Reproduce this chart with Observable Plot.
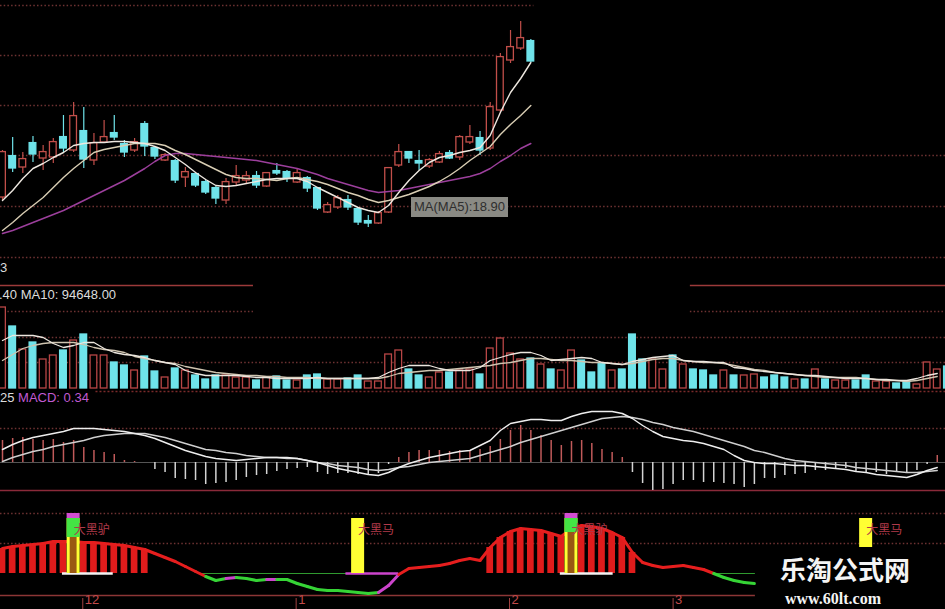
<!DOCTYPE html>
<html><head><meta charset="utf-8">
<script src="https://cdn.jsdelivr.net/npm/d3@7"></script>
<script src="https://cdn.jsdelivr.net/npm/@observablehq/plot@0.6"></script>
<style>
html,body{margin:0;padding:0;background:#000;}
#wrap{position:relative;width:945px;height:609px;overflow:hidden;background:#000;}
#wrap svg{display:block;}
.lbl{position:absolute;font-family:"Liberation Sans",Arial,sans-serif;font-size:13px;color:#dcdcdc;white-space:nowrap;line-height:14px;}
</style></head><body><div id="wrap"></div>
<script>
// ---------- candles (price) ----------
const open  = [20.15,22.2,21.65,22.85,22.1,22.15,23.15,22.5,23.45,22.0,22.9,23.35,22.8,22.5,23.8,22.6,22.0,21.95,21.15,21.3,20.9,20.6,20.0,20.9,21.0,21.2,20.7,21.45,21.4,20.9,21.1,20.6,19.4,19.65,20.0,19.55,18.95,18.85,19.4,21.75,22.4,21.95,21.7,21.9,22.35,22.15,22.9,23.1,22.6,24.5,27.0,27.6,27.95];
const high  = [22.5,23.15,22.4,23.2,22.75,23.1,24.25,24.9,24.65,23.35,24.0,24.25,23.0,23.1,23.95,22.65,22.35,22.05,21.65,21.35,21.0,20.7,21.1,21.75,21.45,21.45,21.4,21.85,21.5,21.6,21.2,20.65,19.9,20.25,20.25,19.65,19.25,19.45,21.65,22.8,22.4,22.5,22.1,22.45,22.5,23.25,23.75,23.45,24.9,27.35,28.5,28.95,28.05];
const low   = [20.0,21.4,21.35,21.9,21.5,21.85,22.4,22.4,21.6,21.75,22.85,23.0,22.15,22.4,22.2,22.05,21.95,20.85,20.65,20.65,20.3,19.8,19.8,20.75,20.85,20.6,20.65,21.25,20.9,20.85,20.4,19.5,19.35,19.55,19.5,18.75,18.65,18.8,19.35,21.65,21.85,21.5,21.6,21.85,22.05,22.0,22.8,22.25,22.5,24.4,26.85,27.5,26.9];
const close = [22.4,21.6,22.05,22.3,22.4,22.9,22.6,24.2,22.05,22.85,23.15,23.15,22.4,22.9,22.7,22.2,22.25,21.0,21.4,20.75,20.4,20.1,20.9,21.2,21.2,20.75,21.35,21.35,21.1,21.35,20.6,19.6,19.75,20.1,19.65,18.9,18.85,19.35,21.6,22.4,22.1,21.85,22.0,22.3,22.1,23.15,23.15,22.5,24.65,27.15,27.65,28.1,26.95];
const ma5   = [20.0,20.5,21.1,21.6,21.85,22.15,22.4,22.75,22.85,22.9,22.9,22.95,22.95,22.9,22.85,22.7,22.5,22.15,21.8,21.4,21.05,20.75,20.7,20.75,20.85,20.95,21.05,21.1,21.1,21.1,20.95,20.65,20.4,20.15,19.9,19.65,19.5,19.4,19.75,20.4,21.0,21.5,21.9,22.15,22.25,22.4,22.5,22.65,23.25,24.4,25.4,26.1,26.9];
const ma10  = [18.5,18.9,19.35,19.75,20.15,20.65,21.15,21.6,22.0,22.4,22.55,22.65,22.75,22.85,22.85,22.85,22.75,22.5,22.3,22.05,21.8,21.55,21.3,21.15,21.1,21.1,21.05,21.0,21.1,21.15,21.05,20.95,20.8,20.6,20.4,20.25,20.05,19.9,20.0,20.15,20.3,20.5,20.7,20.95,21.25,21.6,22.0,22.35,22.7,23.3,23.8,24.25,24.75];
const ma30  = [18.35,18.5,18.7,18.9,19.1,19.3,19.5,19.75,20.0,20.25,20.5,20.75,21.0,21.3,21.6,21.95,22.25,22.35,22.35,22.3,22.25,22.2,22.15,22.1,22.05,22.0,21.9,21.8,21.7,21.6,21.45,21.3,21.1,20.95,20.8,20.65,20.5,20.4,20.45,20.5,20.6,20.7,20.8,20.9,21.0,21.1,21.2,21.35,21.6,21.95,22.25,22.6,22.85];
const priceGrid    = [29.75,27.25,24.75,22.25,19.7,17.15];
const priceGridEnd = [52.3,48.7,49.0,92.81,92.81,92.81];

// ---------- volume ----------
const volume = [405000,310000,195000,230000,145000,165000,190000,240000,270000,165000,
165000,130000,115000,90000,160000,85000,55000,100000,90000,65000,
45000,65000,65000,55000,55000,40000,55000,60000,40000,40000,
65000,70000,45000,45000,50000,65000,35000,35000,170000,190000,
95000,65000,55000,80000,80000,90000,95000,70000,200000,250000,
175000,145000,150000,120000,95000,90000,190000,140000,80000,125000,
90000,95000,270000,145000,145000,95000,165000,120000,95000,90000,
65000,90000,65000,65000,70000,55000,65000,55000,45000,45000,
95000,45000,40000,40000,40000,65000,35000,35000,25000,35000,
20000,130000,95000,110000];
const volDir = "RCRCRRCRCRRCCRCCRCRCCCRRRCRCCRCCRRCCRRRRCCRRCRRCRRRRCRCRRCCCRCCCRRCRCCCRCRRCCCRCRCRRCCRRCCRRRC";
const volMa5 = [240000,265000,265000,265000,255000,225000,205000,215000,230000,230000,
200000,180000,170000,165000,155000,140000,130000,120000,90000,75000,
65000,65000,65000,65000,60000,55000,55000,50000,50000,50000,
50000,55000,50000,50000,50000,50000,50000,55000,80000,100000,
115000,115000,115000,100000,90000,90000,90000,105000,140000,155000,
170000,180000,180000,165000,140000,145000,150000,155000,150000,130000,
125000,120000,135000,145000,155000,160000,165000,140000,135000,135000,
130000,130000,105000,100000,90000,85000,80000,75000,70000,65000,
65000,60000,55000,50000,50000,50000,45000,45000,40000,40000,
50000,65000,75000];
const volMa10 = [140000,170000,200000,215000,225000,230000,230000,230000,220000,205000,
195000,190000,180000,160000,150000,140000,130000,125000,110000,100000,
90000,80000,75000,70000,65000,65000,60000,60000,55000,55000,
55000,50000,50000,50000,50000,50000,50000,50000,60000,75000,
80000,85000,90000,90000,95000,100000,105000,110000,115000,125000,
130000,140000,150000,150000,145000,140000,140000,135000,130000,130000,
125000,120000,125000,135000,145000,150000,150000,140000,135000,130000,
130000,125000,115000,105000,95000,90000,80000,75000,70000,65000,
60000,55000,55000,55000,55000,50000,45000,40000,40000,35000,
40000,50000,60000];
const volGrid = [385000,255000,130000];

// ---------- MACD ----------
const macdHist = [0.22,0.24,0.25,0.23,0.22,0.23,0.20,0.22,0.15,0.12,
0.10,0.08,0.02,0.01,0.0,-0.07,-0.10,-0.16,-0.17,-0.18,
-0.22,-0.21,-0.20,-0.18,-0.15,-0.13,-0.12,-0.09,-0.07,-0.06,
-0.05,-0.10,-0.12,-0.11,-0.11,-0.12,-0.12,-0.11,-0.02,0.05,
0.10,0.12,0.12,0.12,0.11,0.12,0.12,0.13,0.16,0.23,
0.32,0.37,0.32,0.27,0.22,0.17,0.21,0.22,0.19,0.13,
0.10,0.05,-0.10,-0.21,-0.28,-0.27,-0.22,-0.18,-0.18,-0.20,
-0.20,-0.21,-0.22,-0.25,-0.22,-0.16,-0.16,-0.13,-0.12,-0.11,
-0.08,-0.08,-0.07,-0.06,-0.10,-0.10,-0.10,-0.12,-0.10,-0.10,
-0.08,-0.02,0.07];
const dif = [0.13,0.18,0.22,0.25,0.27,0.29,0.31,0.34,0.34,0.34,
0.33,0.32,0.31,0.29,0.27,0.24,0.20,0.16,0.12,0.09,
0.06,0.04,0.03,0.02,0.03,0.04,0.05,0.05,0.05,0.04,
0.02,0.0,-0.03,-0.06,-0.08,-0.10,-0.12,-0.13,-0.10,-0.05,
-0.01,0.02,0.05,0.07,0.09,0.11,0.12,0.17,0.22,0.32,
0.39,0.41,0.43,0.43,0.42,0.42,0.46,0.49,0.51,0.51,
0.51,0.49,0.44,0.37,0.31,0.26,0.24,0.22,0.21,0.19,
0.16,0.13,0.07,0.02,0.0,-0.01,-0.01,-0.02,-0.03,-0.03,
-0.04,-0.05,-0.06,-0.07,-0.09,-0.10,-0.12,-0.13,-0.14,-0.15,
-0.12,-0.08,-0.05];
const dea = [0.01,0.05,0.08,0.11,0.13,0.16,0.18,0.20,0.22,0.25,
0.27,0.28,0.29,0.29,0.29,0.27,0.25,0.22,0.19,0.16,
0.13,0.12,0.10,0.09,0.07,0.06,0.05,0.05,0.04,0.04,
0.02,0.0,-0.01,-0.03,-0.04,-0.05,-0.07,-0.08,-0.07,-0.05,
-0.04,-0.02,0.0,0.01,0.02,0.03,0.04,0.07,0.10,0.13,
0.16,0.20,0.23,0.26,0.29,0.32,0.35,0.38,0.41,0.44,
0.45,0.46,0.45,0.43,0.40,0.38,0.35,0.33,0.31,0.28,
0.25,0.22,0.19,0.16,0.12,0.10,0.07,0.04,0.02,0.01,
0.0,-0.01,-0.02,-0.03,-0.05,-0.06,-0.07,-0.08,-0.09,-0.10,
-0.10,-0.09,-0.08];
const macdGrid = [0.34];
const macdBorder = [-0.28];

// ---------- signal indicator (大黑马 / 大黑驴) ----------
const signalLine = [25,27,28,29,30,32,32,32,31,31,
30,29,28,26,24,20,16,12,7,2,
-3,-7,-5,-4,-5,-7,-6,-6,-6,-10,
-13,-16,-17,-17,-18,-19,-20,-19,-12,-1,
5,6,7,8,10,13,15,13,26,36,
42,45,44,43,40,37,45,48,47,45,
41,36,21,11,8,6,7,8,6,4,
0,-4,-7,-9,-10];
const signalSegColor = "RRRRRRRRRRRRRRRRRRRRGGMGGGMGGGGGGGGGGMMRRRRRRRRRRRRRRRRRRRRRRRRRRRRRRRGGGG";
const stripeIdx = [0,1,2,3,4,5,6,7,8,9,10,11,12,13,14,48,49,50,51,52,53,54,55,56,57,58,59,60,61,62];
const signalIdx   = [7,35,56,85];
const signalName  = ["大黑驴","大黑马","大黑驴","大黑马"];
const signalTop   = [55,55,55,55];
const signalSplit = [36,null,41,null];
const baseSpanFrom = [5.9,19.5,33.8,54.9,70];
const baseSpanTo   = [10.9,39,39,60.1,74.1];
const baseSpanKind = ["W","G","M","W","G"];
const sigGrid = [60,30];
const sigAxis = [-22];
const monthPos = [7.9,28.9,49.9,66.0];
const monthLabel = ["12","1","2","3"];

// ---------- drawing ----------
const X0 = -0.197, X1 = 92.81;
const RED = "#c24f4a", CYAN = "#6fe3ea";
const DOT = "#6e3232";
const xOpt = {domain:[X0, X1], axis:null};
const base = {width:945, marginTop:0, marginBottom:0, marginLeft:0, marginRight:0,
  x:xOpt, color:{type:"identity"}, style:{background:"#000", color:"#ddd", overflow:"visible"}};
const wrap = document.getElementById("wrap");

const candles = open.map((o,i)=>({i, o, h:high[i], l:low[i], c:close[i], up: close[i] > open[i]}));
const series = arr => arr.map((v,i)=>({i, v}));

// Panel A: candles
wrap.append(Plot.plot({...base, height:290, y:{domain:[15.5,30], axis:null},
  marks:[
    Plot.ruleY(priceGrid.map((p,k)=>({p, e:priceGridEnd[k]})), {y:"p", x1:()=>X0, x2:"e", stroke:DOT, strokeWidth:1.4, strokeDasharray:"1.5,2.2"}),
    Plot.ruleY([{p:15.75,a:X0,b:24.7},{p:15.75,a:67.7,b:X1}], {y:"p", x1:"a", x2:"b", stroke:"#9c3a3a", strokeWidth:1.6}),
    Plot.ruleX(candles, {x:"i", y1:"l", y2:"h", stroke:d=>d.up?RED:CYAN, strokeWidth:1.2}),
    Plot.rect(candles, {x1:d=>d.i-0.33, x2:d=>d.i+0.33, y1:d=>Math.min(d.o,d.c), y2:d=>Math.max(d.o,d.c)+0.02,
      fill:d=>d.up?"#000":CYAN, stroke:d=>d.up?RED:CYAN, strokeWidth:1.3}),
    Plot.line(series(ma30), {x:"i", y:"v", stroke:"#9c3f9c", strokeWidth:1.5}),
    Plot.line(series(ma10), {x:"i", y:"v", stroke:"#d9ceb4", strokeWidth:1.4}),
    Plot.line(series(ma5),  {x:"i", y:"v", stroke:"#eee8e0", strokeWidth:1.4})
  ]}));

// Panel B: volume
const vols = volume.map((v,i)=>({i, v, up: volDir[i]==="R"}));
wrap.append(Plot.plot({...base, height:102, y:{domain:[-20000,490000], axis:null},
  marks:[
    Plot.ruleY([{v:volGrid[0],a:X0,b:24.7},{v:volGrid[0],a:67.7,b:X1},{v:volGrid[1],a:X0,b:X1},{v:volGrid[2],a:X0,b:X1}],
      {y:"v", x1:"a", x2:"b", stroke:DOT, strokeWidth:1.4, strokeDasharray:"1.5,2.2"}),
    Plot.ruleY([-15000], {x1:()=>9.2, x2:()=>X1, stroke:"#7a2a2a", strokeWidth:1.4, strokeDasharray:"2,2"}),
    Plot.rect(vols, {x1:d=>d.i-0.33, x2:d=>d.i+0.33, y1:()=>0, y2:"v",
      fill:d=>d.up?"#000":CYAN, stroke:d=>d.up?"#b84646":CYAN, strokeWidth:1.3}),
    Plot.line(series(volMa10), {x:"i", y:"v", stroke:"#cfc4b0", strokeWidth:1.3}),
    Plot.line(series(volMa5),  {x:"i", y:"v", stroke:"#ece6de", strokeWidth:1.3})
  ]}));

// Panel C: MACD
wrap.append(Plot.plot({...base, height:106, y:{domain:[-0.36,0.70], axis:null},
  marks:[
    Plot.ruleY(macdGrid, {stroke:DOT, strokeWidth:1.4, strokeDasharray:"1.5,2.2"}),
    Plot.ruleY(macdBorder, {stroke:"#8a2a3a", strokeWidth:1.6}),
    Plot.ruleY([0], {stroke:"#555", strokeWidth:1}),
    Plot.ruleX(series(macdHist), {x:"i", y1:()=>0, y2:"v", stroke:d=>d.v>=0?"#c05a5a":"#d4d4d4", strokeWidth:1.5}),
    Plot.line(series(dea), {x:"i", y:"v", stroke:"#cfcfcf", strokeWidth:1.4}),
    Plot.line(series(dif), {x:"i", y:"v", stroke:"#eeeeee", strokeWidth:1.4})
  ]}));

// Panel D: signal indicator
const segCol = {R:"#e61e1e", G:"#36d436", M:"#cc44cc"};
const segs = signalLine.slice(0,-1).map((v,i)=>({i, a:v, b:signalLine[i+1], c:segCol[signalSegColor[i]]}));
const stripes = stripeIdx.map(i=>({i, v:signalLine[i]}));
const spans = baseSpanFrom.map((f,k)=>({f, t:baseSpanTo[k], k:baseSpanKind[k]}));
const spanCol = {W:"#f2f2f2", G:"#2f9a2f", M:"#cc44cc"};
const spanW = {W:2.5, G:1.2, M:2.5};
const sigs = signalIdx.map((i,k)=>({i, name:signalName[k], top:signalTop[k], split:signalSplit[k]}));
const donkeys = sigs.filter(d=>d.split!=null);
const months = monthPos.map((p,k)=>({p, label:monthLabel[k]}));
wrap.append(Plot.plot({...base, height:111, y:{domain:[-36,75], axis:null},
  marks:[
    Plot.ruleY(sigGrid, {stroke:DOT, strokeWidth:1.4, strokeDasharray:"1.5,2.2"}),
    Plot.ruleY(sigAxis, {x1:()=>X0, x2:()=>74.1, stroke:"#8c3636", strokeWidth:1.6}),
    Plot.ruleX(months, {x:"p", y1:()=>-25, y2:()=>-36, stroke:"#a04040", strokeWidth:1}),
    Plot.text(months, {x:"p", text:"label", frameAnchor:"bottom", dy:-6, dx:2, textAnchor:"start", fill:"#c24a4a", fontSize:13, fontFamily:"Liberation Sans, Arial, sans-serif"}),
    Plot.rect(stripes, {x1:d=>d.i-0.33, x2:d=>d.i+0.33, y1:()=>0, y2:"v", fill:"#e01c1c"}),
    Plot.ruleY(spans, {y:()=>0, x1:"f", x2:"t", stroke:d=>spanCol[d.k], strokeWidth:d=>spanW[d.k]}),
    Plot.link(segs, {x1:"i", y1:"a", x2:d=>d.i+1, y2:"b", stroke:"c", strokeWidth:3, strokeLinecap:"round"}),
    Plot.rect(sigs, {x1:d=>d.i-0.64, x2:d=>d.i+0.64, y1:()=>0, y2:"top", fill:"#ffff33"}),
    Plot.rect(donkeys, {x1:d=>d.i-0.64, x2:d=>d.i+0.64, y1:"split", y2:"top", fill:"#44e444"}),
    Plot.rect(donkeys, {x1:d=>d.i-0.34, x2:d=>d.i+0.34, y1:()=>0, y2:"split", fill:"#9a5812"}),
    Plot.rect(donkeys, {x1:d=>d.i-0.64, x2:d=>d.i+0.64, y1:"top", y2:d=>d.top+5, fill:"#d24ed2"}),
    Plot.text(sigs, {x:"i", text:"name", frameAnchor:"top", dy:27, textAnchor:"start", fill:"#b03a4a", fontSize:12, fontFamily:"Noto Sans CJK SC, sans-serif"})
  ]}));

// overlay texts
function addLbl(html, css){ const d=document.createElement("div"); d.className="lbl"; d.innerHTML=html; Object.assign(d.style, css); wrap.append(d); return d; }
addLbl("3", {left:"0px", top:"261px"});
addLbl(".40 MA10: 94648.00", {left:"-1px", top:"288px"});
addLbl('25 <span style="color:#c05ad2">MACD: 0.34</span>', {left:"0px", top:"391px"});
addLbl("MA(MA5):18.90", {left:"411px", top:"197px", width:"97px", height:"20px", lineHeight:"20px", textAlign:"center",
  background:"#8a8a84", color:"#2e2e2e", fontSize:"13px"});
addLbl("", {left:"757px", top:"547px", width:"188px", height:"62px", background:"#000"});
addLbl("乐淘公式网", {left:"780px", top:"554px", fontFamily:"'Noto Sans CJK SC',sans-serif", fontWeight:"700", fontSize:"26px", lineHeight:"30px", color:"#f4f4f4", letterSpacing:"0px"});
addLbl("www.60lt.com", {left:"785px", top:"590px", fontFamily:"'Liberation Serif','DejaVu Serif',serif", fontWeight:"700", fontSize:"16px", lineHeight:"17px", color:"#f4f4f4"});
</script></body></html>
